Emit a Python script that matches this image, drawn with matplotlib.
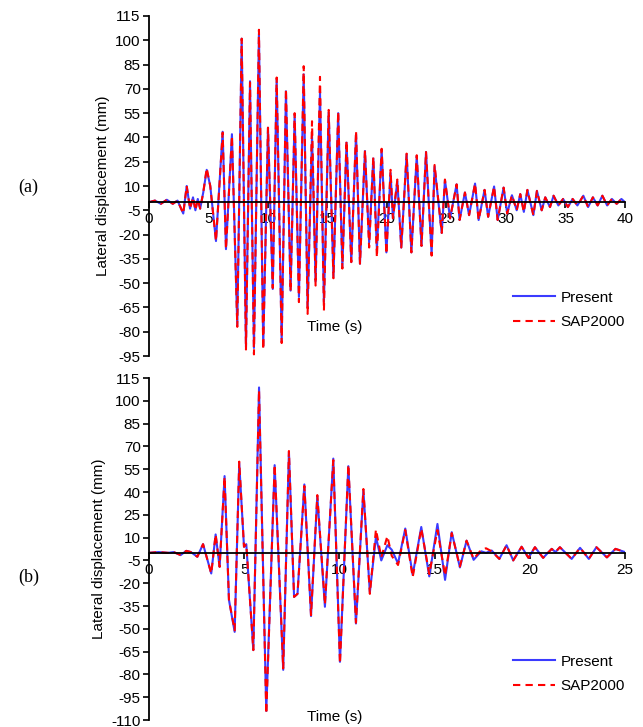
import numpy as np
import matplotlib
matplotlib.use("Agg")
import matplotlib.pyplot as plt

plt.rcParams['font.family'] = ['Liberation Sans', 'DejaVu Sans']
plt.rcParams['axes.unicode_minus'] = False

#-----------------------Data (a): peaks and troughs-----------
t_a = [0, 0.5, 1.0, 1.5, 2.0, 2.4, 2.88, 3.17, 3.45, 3.7, 3.9, 4.1, 4.3, 4.56,
       4.85, 5.15, 5.63, 6.19, 6.47, 6.97, 7.42, 7.79, 8.15, 8.49, 8.82, 9.24,
       9.6, 10.0, 10.4, 10.73, 11.15, 11.51, 11.9, 12.24, 12.6, 13.0, 13.33,
       13.7, 14.0, 14.37, 14.7, 15.1, 15.5, 15.9, 16.25, 16.6, 17.0, 17.4,
       17.73, 18.15, 18.5, 18.85, 19.15, 19.55, 19.95, 20.3, 20.5, 20.87, 21.2,
       21.65, 22.05, 22.5, 22.9, 23.28, 23.75, 24.0, 24.6, 24.87, 25.3, 25.85,
       26.1, 26.55, 26.9, 27.4, 27.7, 28.2, 28.5, 29.0, 29.3, 29.8, 30.1, 30.5,
       30.9, 31.2, 31.5, 31.8, 32.3, 32.6, 33.0, 33.3, 33.7, 34.0, 34.4, 34.8,
       35.2, 35.6, 36.0, 36.5, 36.9, 37.3, 37.7, 38.1, 38.5, 38.9, 39.3, 39.7,
       40.0]
present_a = [0, 1, -1, 1.5, -1, 1, -7, 10, -4, 3, -5, 2, -4, 6,
             20, 10, -24, 43.5, -29, 42, -76, 101, -89.5, 74.7, -90, 104,
             -89, 46, -53.6, 76, -86, 68.5, -54.6, 54, -58.5, 79, -64.7,
             41, -49, 68, -61.6, 55.6, -46, 55, -40, 36.8, -37, 42,
             -38, 31.6, -25, 27, -29, 32.5, -31, 18, -10, 13, -28,
             29.5, -31, 28.5, -27, 31, -32, 22, -19, 13.7, -10, 11,
             -11, 6, -8, 11.5, -11, 7.6, -9, 9.7, -11, 9, -7, 4.3,
             -5, 5, -6, 7.6, -8, 7, -5, 3, -3, 4, -2, 2,
             -3, 2, -2, 4, -3, 3, -2, 4, -2, 2, -1, 2,
             0]
sap_a = [0, 1, -1, 1.5, -1, 1, -7, 10, -4, 3, -5, 2, -4, 6,
         21, 10, -24, 43, -29, 41, -77, 101, -91, 74, -94, 106.5,
         -91, 46, -53, 77, -87, 70, -55, 55, -61.7, 84, -69,
         50, -51.5, 77.4, -67, 57, -47, 56, -41, 38, -37, 44,
         -38, 32, -28, 28, -34, 33, -32, 20, -10, 14, -28,
         30, -31, 29, -27, 31, -33, 23, -19, 14, -10, 11,
         -11, 6, -8, 11.5, -11, 7.6, -9, 9.7, -11, 9, -7, 4.3,
         -5, 5, -6, 7.6, -8, 7, -5, 3, -3, 4, -2, 2,
         -3, 2, -2, 4, -3, 3, -2, 4, -2, 2, -1, 2,
         0]

#-----------------------Data (b)--------------------------------------------------
t_b = [0, 0.5, 1.0, 1.3, 1.66, 1.96, 2.2, 2.54, 2.84, 3.27, 3.5, 3.71, 3.97,
       4.2, 4.5, 4.74, 4.99, 5.11, 5.48, 5.78, 6.16, 6.6, 7.05, 7.35, 7.62,
       7.8, 8.16, 8.51, 8.84, 9.24, 9.68, 10.03, 10.47, 10.87, 11.26, 11.6,
       11.92, 12.2, 12.52, 12.75, 13.08, 13.46, 13.85, 14.3, 14.72, 15.15,
       15.55, 15.9, 16.33, 16.68, 17.05, 17.45, 17.7, 18.0, 18.4, 18.78,
       19.13, 19.57, 19.93, 20.27, 20.7, 21.15, 21.35, 21.58, 22.2, 22.64,
       23.1, 23.5, 24.05, 24.5, 25.0]
present_b = [0, 0.5, 0, 0.5, -1.5, 1.3, 0.5, -2.6, 5.7, -13.6, 12.1, -9.2, 50.5,
             -31, -52, 59, 4, 5.7, -64, 108.8, -104, 57.7, -77, 66.4, -29,
             -27, 45, -41.6, 37.3, -35.5, 62, -71.7, 57, -46.5, 41, -26,
             10.5, -5, 5, 2, -7, 16, -14.5, 17, -15.5, 19,
             -17.8, 13.6, -9.6, 8, -4.6, 1, 0, 1.5, -4, 5,
             -5, 4, -3.3, 3.7, -3.3, 2.6, 0.5, 3.7, -4, 3.3,
             -4, 3.7, -3, 2.6, 0.5]
sap_b = [0, 0.5, 0, 0.5, -1.5, 1.3, 0.5, -2.6, 5.7, -13.6, 12.1, -9.2, 50,
         -31, -51, 60, 4, 5.7, -64, 107, -106, 58, -76, 67, -29,
         -27, 44, -41, 38, -34, 61, -73, 58, -46, 42, -27,
         15.4, -3, 11, -2, -8, 15, -16, 16, -14, 15,
         -15, 13, -9, 8, -4, 2, 3, 1, -4, 5,
         -5, 4, -3.3, 3.7, -3.3, 2.6, 0.5, 3.7, -4, 3.3,
         -4, 3.7, -3, 2.6, 0.5]

yticks_a = np.arange(-95, 116, 15)
yticks_b = np.arange(-110, 116, 15)

#-----------------------Figure----------------------------------------------------
fig = plt.figure(figsize=(6.43, 7.27), dpi=100)
ax_a = fig.add_axes([0.2317, 0.5103, 0.7403, 0.4677])
ax_b = fig.add_axes([0.2317, 0.0096, 0.7403, 0.4704])


def style_axis(ax, t, pres, sap, xmax, yticks, xlab_y):
    ax.plot(t, pres, color='#3b3bff', lw=1.5, label='Present')
    ax.plot(t, sap, color='#ff0000', lw=1.5, ls=(0, (3.5, 2.5)), label='SAP2000')
    ax.set_xlim(0, xmax)
    ax.set_ylim(yticks[0], yticks[-1])
    ax.set_xticks(np.arange(0, xmax + 1, 5))
    ax.set_yticks(yticks)
    ax.spines['top'].set_visible(False)
    ax.spines['right'].set_visible(False)
    ax.spines['bottom'].set_position(('data', 0))
    ax.spines['left'].set_linewidth(1.3)
    ax.spines['bottom'].set_linewidth(1.3)
    ax.tick_params(axis='both', direction='out', length=4, width=1.2,
                   labelsize=11, colors='black', pad=2)
    ax.tick_params(axis='x', pad=3)
    ax.set_ylabel('Lateral displacement (mm)', fontsize=11, labelpad=4)
    ax.text(0.39, xlab_y, 'Time (s)', transform=ax.transAxes, fontsize=11,
            ha='center', va='center')
    ax.legend(loc='center left', bbox_to_anchor=(0.735, 0.135), frameon=False,
              fontsize=11, handlelength=2.8, handletextpad=0.35,
              labelspacing=0.7)


style_axis(ax_a, t_a, present_a, sap_a, 40, yticks_a, 0.085)
style_axis(ax_b, t_b, present_b, sap_b, 25, yticks_b, 0.01)

fig.text(0.044, 1 - 187 / 727, '(a)', family='Liberation Serif', fontsize=13,
         ha='center', va='center')
fig.text(0.044, 1 - 577 / 727, '(b)', family='Liberation Serif', fontsize=13,
         ha='center', va='center')

plt.savefig('out.png', dpi=100)
